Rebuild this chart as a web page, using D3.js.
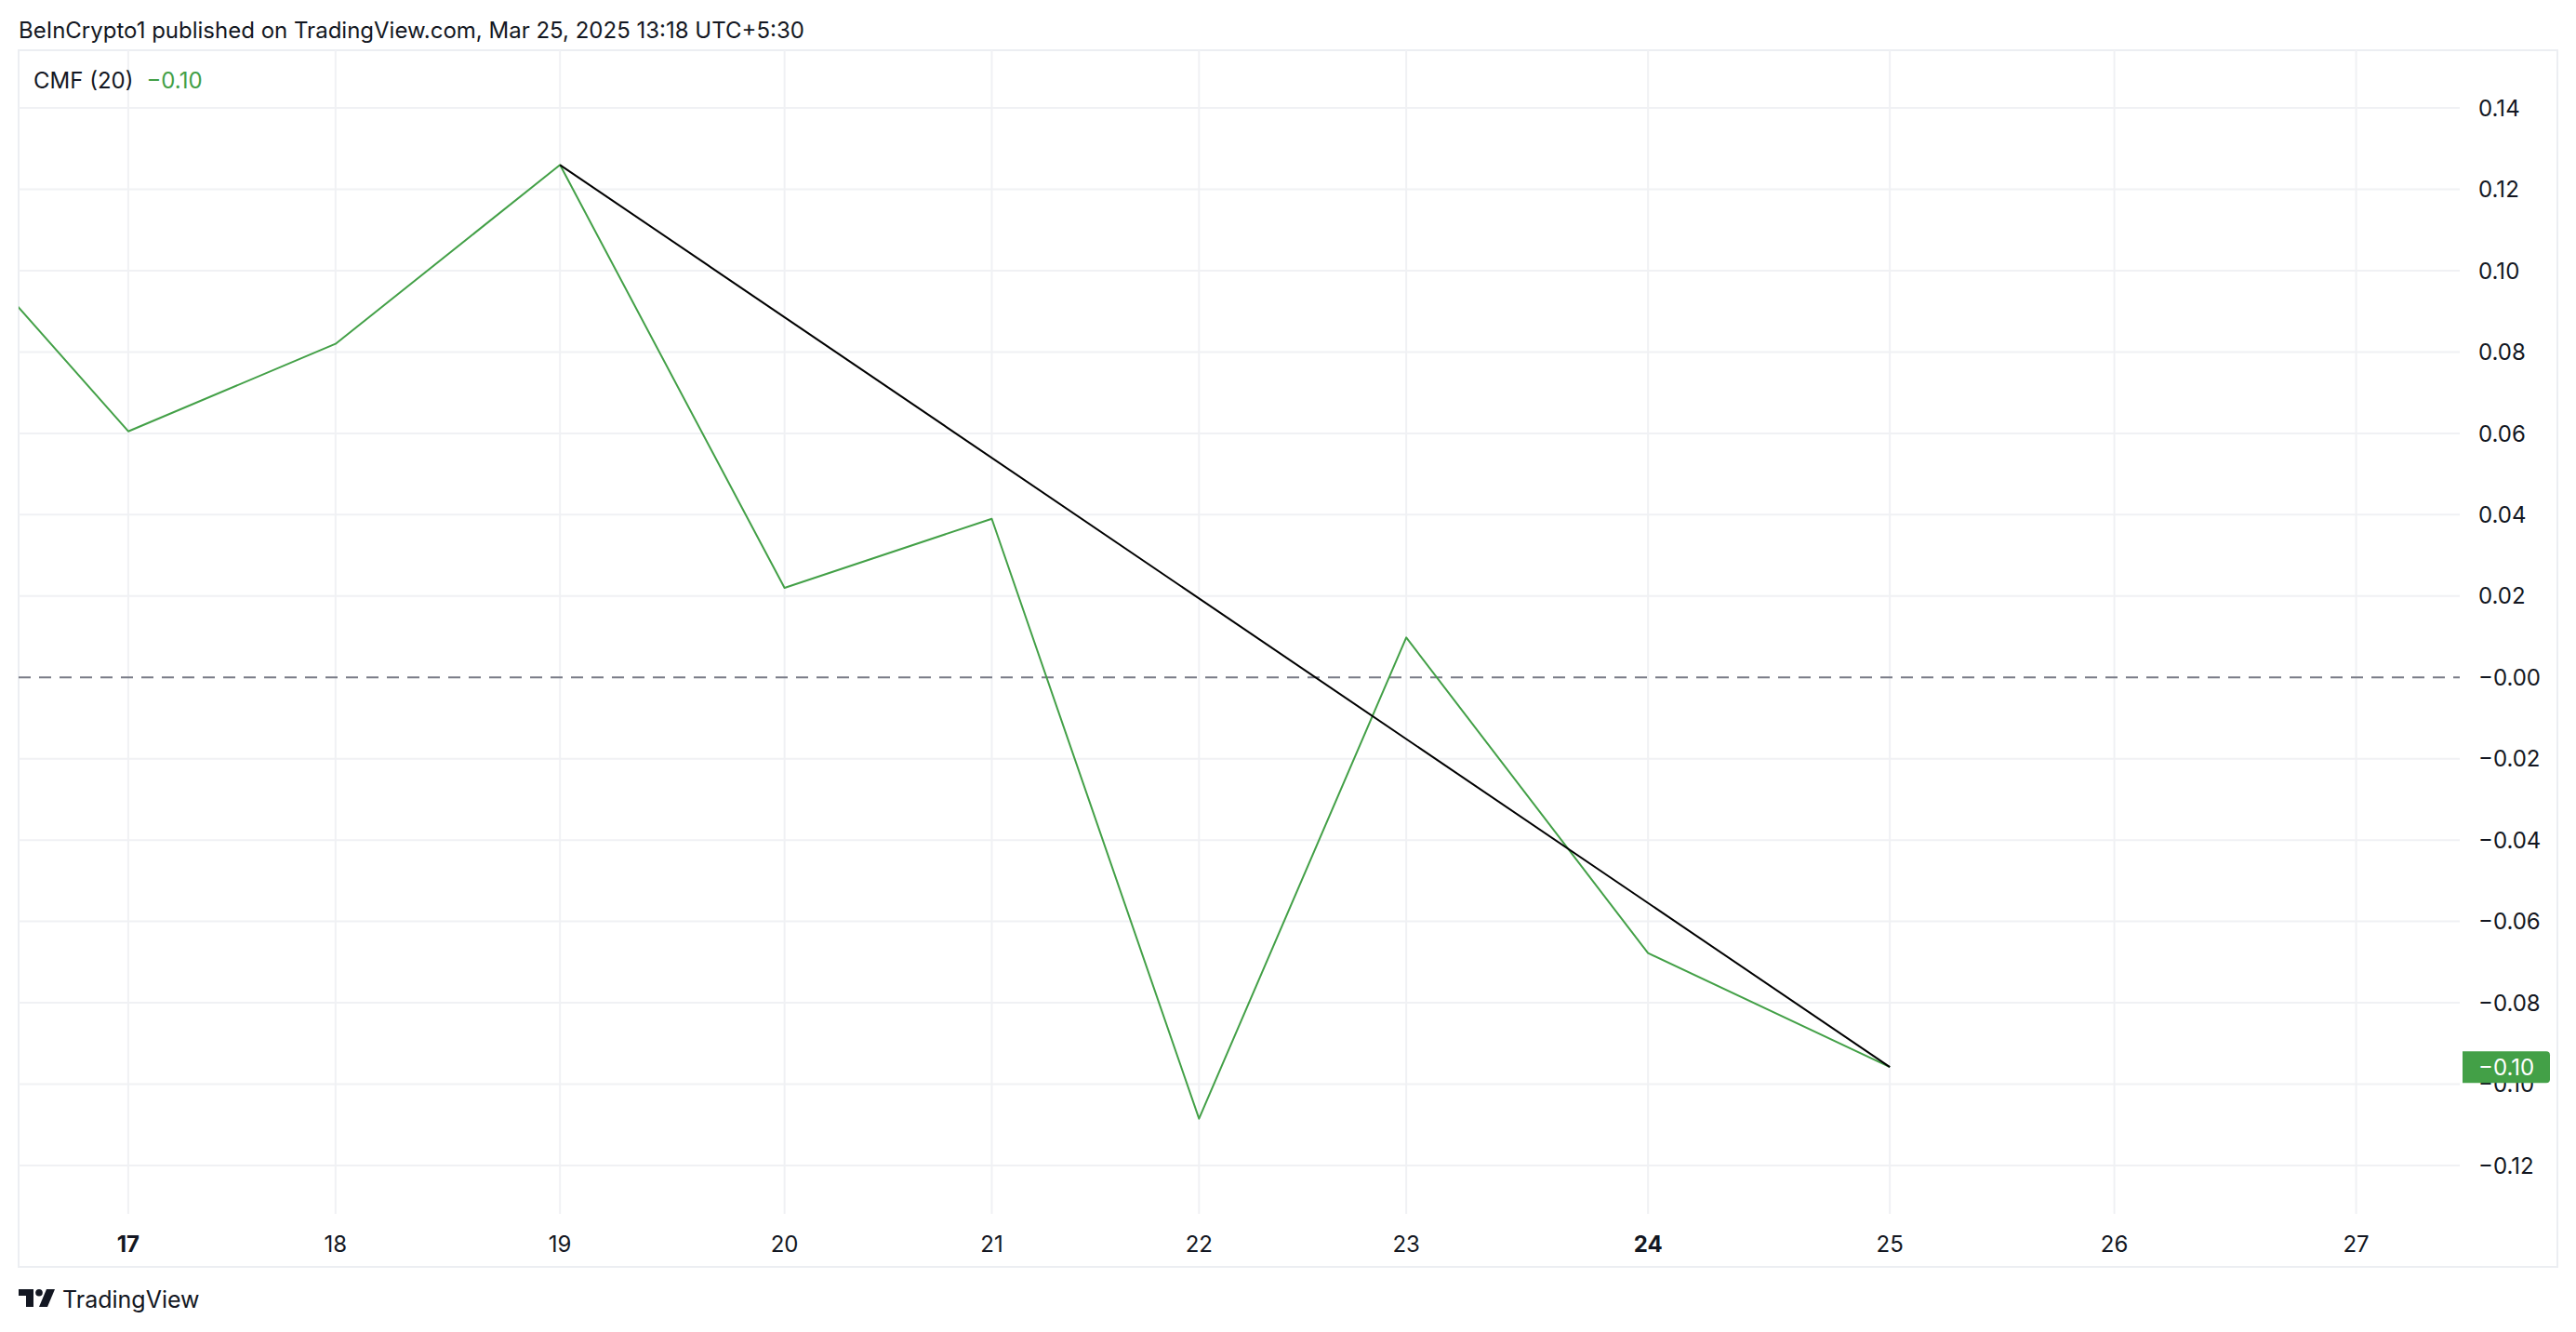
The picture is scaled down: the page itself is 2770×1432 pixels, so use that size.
<!DOCTYPE html>
<html><head><meta charset="utf-8">
<script src="https://cdn.jsdelivr.net/npm/d3@7/dist/d3.min.js"></script>
<style>
body{margin:0;background:#fff}
svg{display:block}
text{font-family:Inter,"Noto Sans",Roboto,sans-serif;fill:#131722}
</style>
</head><body>
<svg id="chart" width="2770" height="1432"></svg>
<script>
// ---- data ----
const headerText = "BeInCrypto1 published on TradingView.com, Mar 25, 2025 13:18 UTC+5:30";
const legendName = "CMF (20)";
const legendValue = "\u22120.10";
const lastValueLabel = "\u22120.10";

const dayLabels = ["17","18","19","20","21","22","23","24","25","26","27"];
const dayBars   = [0, 12, 25, 38, 50, 62, 74, 88, 102, 115, 129];
const boldDays  = ["17","24"];

const cmfBars   = [-6.4, 0, 12, 25, 38, 50, 62, 74, 88, 102];
const cmfValues = [0.0912, 0.0605, 0.082, 0.126, 0.022, 0.039, -0.1085, 0.0098, -0.0678, -0.0958];

const trendBars   = [25, 102];
const trendValues = [0.126, -0.0958];

const priceTicks = [0.14,0.12,0.10,0.08,0.06,0.04,0.02,0,-0.02,-0.04,-0.06,-0.08,-0.10,-0.12];

// ---- layout ----
const W = 2770, H = 1432;
const paneL = 20, paneT = 54, paneR = 2750, paneB = 1362;
const plotR = 2645, plotB = 1305;
const green = "#43a047", grid = "#f0f1f4", border = "#eceef2";

const svg = d3.select("#chart");
const x = d3.scaleLinear().domain([-6.35, 135]).range([paneL, plotR]);
const y = d3.scaleLinear().domain([-0.1319, 0.1542]).range([plotB, paneT]);

// header
svg.append("text").attr("x", 20).attr("y", 41).attr("font-size", 24).text(headerText);

// pane border
svg.append("rect").attr("x", paneL).attr("y", paneT).attr("width", paneR - paneL).attr("height", paneB - paneT)
  .attr("fill", "#fff").attr("stroke", border).attr("stroke-width", 2);

// grid
const gridG = svg.append("g");
gridG.selectAll("line.v").data(dayBars).join("line").attr("class","v")
  .attr("x1", d => x(d)).attr("x2", d => x(d)).attr("y1", paneT).attr("y2", plotB)
  .attr("stroke", grid).attr("stroke-width", 2);
gridG.selectAll("line.h").data(priceTicks.filter(d => d !== 0)).join("line").attr("class","h")
  .attr("x1", paneL).attr("x2", plotR).attr("y1", d => y(d)).attr("y2", d => y(d))
  .attr("stroke", grid).attr("stroke-width", 2);

// zero dashed line
svg.append("line").attr("x1", paneL).attr("x2", plotR).attr("y1", y(0)).attr("y2", y(0))
  .attr("stroke", "#787b86").attr("stroke-width", 2).attr("stroke-dasharray", "13,9");

// clip
svg.append("clipPath").attr("id", "clip").append("rect")
  .attr("x", paneL).attr("y", paneT).attr("width", plotR - paneL).attr("height", plotB - paneT);

const line = d3.line().x(d => x(d[0])).y(d => y(d[1]));
const plotG = svg.append("g").attr("clip-path", "url(#clip)");
plotG.append("path").datum(cmfBars.map((b, i) => [b, cmfValues[i]]))
  .attr("d", line).attr("fill", "none").attr("stroke", green).attr("stroke-width", 2)
  .attr("stroke-linejoin", "round");
plotG.append("path").datum(trendBars.map((b, i) => [b, trendValues[i]]))
  .attr("d", line).attr("fill", "none").attr("stroke", "#000").attr("stroke-width", 2);

// price axis labels
const fmt = v => (v <= 0 ? "\u2212" : "") + Math.abs(v).toFixed(2);
svg.append("g").selectAll("text").data(priceTicks).join("text")
  .attr("x", 2665).attr("y", d => y(d)).attr("dy", "0.36em").attr("font-size", 24)
  .text(d => fmt(d));

// last value badge
const lastY = y(cmfValues[cmfValues.length - 1]);
svg.append("path")
  .attr("d", `M2648,${lastY-17} H2738 Q2742,${lastY-17} 2742,${lastY-13} V${lastY+13} Q2742,${lastY+17} 2738,${lastY+17} H2648 Z`)
  .attr("fill", green);
svg.append("text").attr("x", 2665).attr("y", lastY).attr("dy", "0.36em").attr("font-size", 24)
  .style("fill", "#fff").text(lastValueLabel);

// time axis labels
svg.append("g").selectAll("text").data(dayLabels).join("text")
  .attr("x", (d, i) => x(dayBars[i])).attr("y", 1337).attr("dy", "0.36em")
  .attr("text-anchor", "middle").attr("font-size", 24)
  .attr("font-weight", d => boldDays.includes(d) ? 700 : 400)
  .text(d => d);

// legend
const leg = svg.append("text").attr("x", 36).attr("y", 95).attr("font-size", 24);
leg.append("tspan").text(legendName);
leg.append("tspan").attr("dx", 14).style("fill", green).text(legendValue);

// TradingView logo
const logo = svg.append("g").attr("transform", "translate(20,1386)");
logo.append("path").attr("d", "M0,0 H16 V19 H8 V7 H0 Z").attr("fill", "#131722");
logo.append("circle").attr("cx", 22).attr("cy", 3.8).attr("r", 3.8).attr("fill", "#131722");
logo.append("path").attr("d", "M30,0 H39 L31,19 H22 Z").attr("fill", "#131722");
svg.append("text").attr("x", 67).attr("y", 1406).attr("font-size", 25).attr("font-weight", 400).text("TradingView");
</script>
</body></html>
